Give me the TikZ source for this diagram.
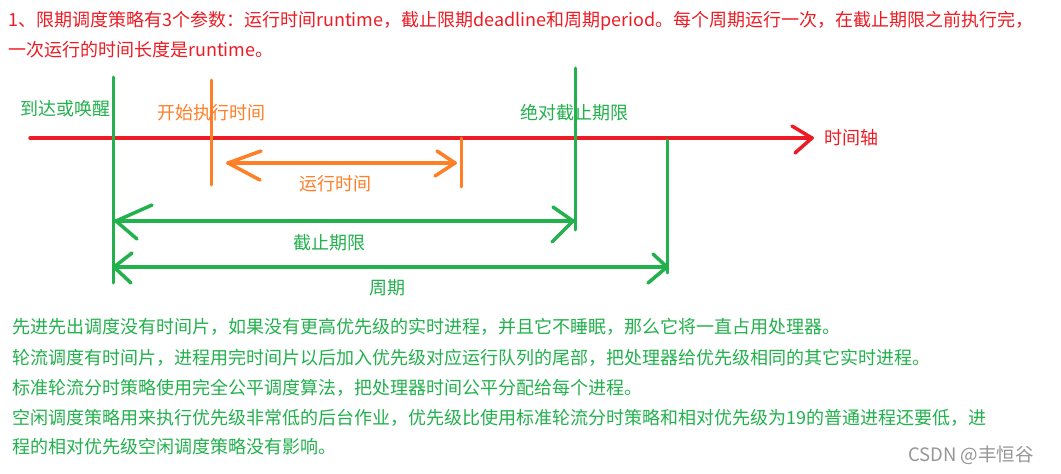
\documentclass[tikz,border=0pt]{standalone}
\usepackage{fontspec}
\setmainfont{Noto Sans CJK SC}
\definecolor{axred}{RGB}{237,28,36}
\definecolor{tgreen}{RGB}{34,177,76}
\definecolor{torange}{RGB}{255,127,39}
\definecolor{wgray}{RGB}{150,150,150}
\begin{document}
\begin{tikzpicture}[x=1pt,y=-1pt,
  txt/.style={inner sep=0pt,anchor=west,font=\fontsize{18}{20}\selectfont},
  redtxt/.style={txt,text=axred},
  grtxt/.style={txt,text=tgreen},
  ortxt/.style={txt,text=torange},
  axis/.style={draw=axred,line width=3.5pt,line cap=round,line join=round},
  gline/.style={draw=tgreen,line width=3pt,line cap=round,line join=round},
  oline/.style={draw=torange,line width=3pt,line cap=round,line join=round}]
\useasboundingbox (0,0) rectangle (1061,474);
\fill[white] (0,0) rectangle (1061,474);
% top text
\node[redtxt] (t1) at (8,21) {1、限期调度策略有3个参数：运行时间runtime，截止限期deadline和周期period。每个周期运行一次，在截止期限之前执行完，};
\node[redtxt] (t2) at (8,50) {一次运行的时间长度是runtime。};
% axis
\coordinate (axL) at (30,138);
\coordinate (axR) at (812,138);
\draw[axis] (axL) -- (axR);
\draw[axis] (792,126) -- (axR) -- (795,153);
\node[redtxt] (axlab) at (824,138) {时间轴};
% verticals
\coordinate (v1t) at (113,77); \coordinate (v1b) at (113,283);
\coordinate (v2t) at (575,68); \coordinate (v2b) at (575,230);
\coordinate (v3t) at (667,140); \coordinate (v3b) at (667,273);
\draw[gline] (v1t) -- (v1b);
\draw[gline] (v2t) -- (v2b);
\draw[gline] (v3t) -- (v3b);
\coordinate (o1t) at (211,80); \coordinate (o1b) at (211,185);
\coordinate (o2t) at (461,138); \coordinate (o2b) at (461,187);
\draw[oline] (o1t) -- (o1b);
\draw[oline] (o2t) -- (o2b);
% labels
\node[grtxt] (arrive) at (20,109) {到达或唤醒};
\node[ortxt] (start) at (157,113) {开始执行时间};
\node[grtxt] (absdl) at (520,113) {绝对截止期限};
% run time arrow
\coordinate (rL) at (228,163); \coordinate (rR) at (455,163);
\draw[oline,line width=3.5pt] (rL) -- (rR);
\draw[oline,line width=3.5pt] (261,151) -- (rL) -- (260,180);
\draw[oline,line width=3.5pt] (437,151) -- (rR) -- (435,176);
\node[ortxt,anchor=center] (runlab) at (335,184) {运行时间};
% deadline arrow
\coordinate (dL) at (116,221); \coordinate (dR) at (573,221);
\draw[gline,line width=3.5pt] (dL) -- (dR);
\draw[gline,line width=3.5pt] (152,205) -- (dL) -- (137,239);
\draw[gline,line width=3.5pt] (553,207) -- (dR) -- (552,242);
\node[grtxt,anchor=center] (dlab) at (329,243) {截止期限};
% period arrow
\coordinate (pL) at (114,267); \coordinate (pR) at (667,267);
\draw[gline,line width=3.5pt] (pL) -- (pR);
\draw[gline,line width=3.5pt] (132,253) -- (pL) -- (131,283);
\draw[gline,line width=3.5pt] (653,254) -- (pR) -- (648,283);
\node[grtxt,anchor=center] (plab) at (387,288) {周期};
% bottom text
\node[grtxt] (b1) at (12,327) {先进先出调度没有时间片，如果没有更高优先级的实时进程，并且它不睡眠，那么它将一直占用处理器。};
\node[grtxt] (b2) at (12,358) {轮流调度有时间片，进程用完时间片以后加入优先级对应运行队列的尾部，把处理器给优先级相同的其它实时进程。};
\node[grtxt] (b3) at (12,388) {标准轮流分时策略使用完全公平调度算法，把处理器时间公平分配给每个进程。};
\node[grtxt] (b4) at (12,418) {空闲调度策略用来执行优先级非常低的后台作业，优先级比使用标准轮流分时策略和相对优先级为19的普通进程还要低，进};
\node[grtxt] (b5) at (12,447) {程的相对优先级空闲调度策略没有影响。};
\node[txt,text=wgray,font=\fontsize{18.5}{20}\selectfont] (wm) at (908,455) {CSDN @丰恒谷};
\end{tikzpicture}
\end{document}
